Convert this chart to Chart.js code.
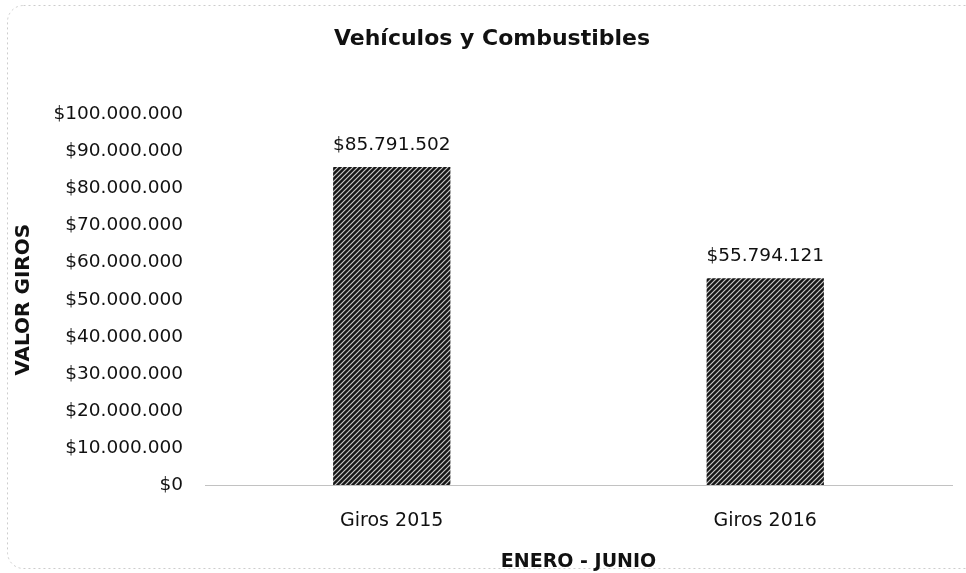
<!DOCTYPE html>
<html>
<head>
<meta charset="utf-8">
<title>Vehículos y Combustibles</title>
<script src="https://cdn.jsdelivr.net/npm/chart.js@4"></script>
<style>
    html, body { margin: 0; padding: 0; background: #fff; }
    #wrap { width: 966px; height: 573px; }
</style>
</head>
<body>
<div id="wrap"><canvas id="girosChart"></canvas></div>
<script>
// Data
const categories = ['Giros 2015', 'Giros 2016'];
const giros = [85791502, 55794121];
const yMin = 0;
const yMax = 100000000;
const yStep = 10000000;

const FONT = 'DejaVu Sans';

function pesos(v) {
    return '$' + String(Math.round(v)).replace(/\B(?=(\d{3})+(?!\d))/g, '.');
}

// dark hatch like the scanned bars
function hatch() {
    const c = document.createElement('canvas');
    c.width = 5;
    c.height = 5;
    const g = c.getContext('2d');
    g.fillStyle = '#161616';
    g.fillRect(0, 0, 5, 5);
    g.strokeStyle = '#c8c8c8';
    g.lineWidth = 1.2;
    g.beginPath();
    g.moveTo(-1, 6); g.lineTo(6, -1);
    g.moveTo(-1, 1); g.lineTo(1, -1);
    g.moveTo(4, 6); g.lineTo(6, 4);
    g.stroke();
    return g.createPattern(c, 'repeat');
}

// frame around the whole chart
const framePlugin = {
    id: 'frame',
    beforeDraw(chart) {
        const ctx = chart.ctx;
        ctx.save();
        ctx.fillStyle = '#fff';
        ctx.fillRect(0, 0, chart.width, chart.height);
        ctx.strokeStyle = '#cdcdcd';
        ctx.lineWidth = 1;
        ctx.setLineDash([2, 3]);
        ctx.beginPath();
        ctx.roundRect(7.5, 5.5, 990, 563, 16);
        ctx.stroke();
        ctx.restore();
    }
};

// value labels above the bars
const valueLabels = {
    id: 'valueLabels',
    afterDatasetsDraw(chart) {
        const ctx = chart.ctx;
        const meta = chart.getDatasetMeta(0);
        ctx.save();
        ctx.font = '18.5px "' + FONT + '"';
        ctx.fillStyle = '#111';
        ctx.textAlign = 'center';
        ctx.textBaseline = 'middle';
        meta.data.forEach(function(bar, i) {
            ctx.fillText(pesos(chart.data.datasets[0].data[i]), bar.x, bar.y - 22);
        });
        ctx.restore();
    }
};

const ctx = document.getElementById('girosChart').getContext('2d');
new Chart(ctx, {
    type: 'bar',
    data: {
        labels: categories,
        datasets: [{
            label: 'Valor giros',
            data: giros,
            backgroundColor: hatch(),
            borderWidth: 0,
            barPercentage: 0.314,
            categoryPercentage: 1
        }]
    },
    options: {
        responsive: true,
        maintainAspectRatio: false,
        animation: false,
        layout: {
            padding: { top: 0, right: 14, bottom: 0, left: 32 }
        },
        plugins: {
            legend: { display: false },
            tooltip: { enabled: false },
            title: {
                display: true,
                text: 'Vehículos y Combustibles',
                color: '#111',
                font: { family: FONT, size: 22, weight: 'bold' },
                padding: { top: 26, bottom: 62 }
            }
        },
        scales: {
            x: {
                grid: { display: false, drawTicks: false },
                border: { display: true, color: '#c2c2c2', width: 1 },
                ticks: {
                    color: '#111',
                    padding: 25,
                    font: { family: FONT, size: 19 }
                },
                title: {
                    display: true,
                    text: 'ENERO - JUNIO',
                    color: '#111',
                    font: { family: FONT, size: 19, weight: 'bold' },
                    padding: { top: 15, bottom: 0 }
                },
                afterFit: function(scale) {
                    scale.height = 88;
                }
            },
            y: {
                min: yMin,
                max: yMax,
                grid: { display: false, drawTicks: false },
                border: { display: false },
                ticks: {
                    stepSize: yStep,
                    color: '#111',
                    padding: 22,
                    font: { family: FONT, size: 18.5 },
                    callback: function(v) { return pesos(v); }
                },
                title: {
                    display: true,
                    text: 'VALOR GIROS',
                    color: '#111',
                    font: { family: FONT, size: 20, weight: 'bold' },
                    padding: { top: -20, bottom: 0 }
                },
                afterFit: function(scale) {
                    scale.width = 173;
                }
            }
        }
    },
    plugins: [framePlugin, valueLabels]
});
</script>
</body>
</html>
